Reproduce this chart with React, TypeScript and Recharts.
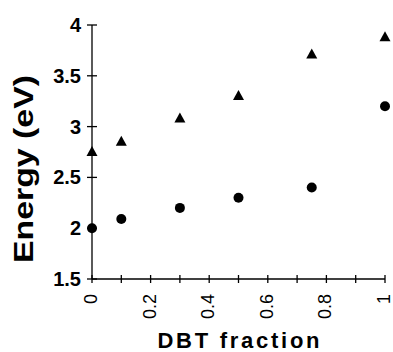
import React from 'react';
import { ScatterChart, Scatter, XAxis, YAxis, Label } from 'recharts';

const fractions = [0, 0.1, 0.3, 0.5, 0.75, 1];
const triangleEnergy = [2.75, 2.85, 3.08, 3.3, 3.71, 3.88];
const circleEnergy = [2.0, 2.09, 2.2, 2.3, 2.4, 3.2];
const xTicks = [0, 0.1, 0.2, 0.3, 0.4, 0.5, 0.6, 0.7, 0.8, 0.9, 1];
const xTickLabels = ['0', '', '0.2', '', '0.4', '', '0.6', '', '0.8', '', '1'];
const yTicks = [1.5, 2, 2.5, 3, 3.5, 4];
const yTickLabels = ['1.5', '2', '2.5', '3', '3.5', '4'];
const xTitle = 'DBT fraction';
const yTitle = 'Energy (eV)';

const triData = fractions.map((x, i) => ({ x, y: triangleEnergy[i] }));
const circData = fractions.map((x, i) => ({ x, y: circleEnergy[i] }));

const FONT = '"Liberation Sans", Arial, Helvetica, sans-serif';

const YTick = (props: any) => {
  const { x, y, payload } = props;
  const idx = yTicks.indexOf(payload.value);
  return (
    <g>
      <line x1={x - 5} x2={x + 5} y1={y} y2={y} stroke="#000" strokeWidth={1.3} />
      <text x={x - 11} y={y} dy={7} textAnchor="end" fontFamily={FONT} fontWeight="bold" fontSize={20} fill="#000">
        {yTickLabels[idx]}
      </text>
    </g>
  );
};

const XTick = (props: any) => {
  const { x, y, payload } = props;
  const idx = xTicks.indexOf(payload.value);
  const lbl = xTickLabels[idx];
  return (
    <g>
      <line x1={x} x2={x} y1={y - 4} y2={y + 4} stroke="#000" strokeWidth={1.3} />
      {lbl ? (
        <text
          x={x + 5}
          y={y + 15}
          textAnchor="end"
          transform={`rotate(-90, ${x + 5}, ${y + 15})`}
          fontFamily={FONT}
          fontSize={18}
          fill="#000"
        >
          {lbl}
        </text>
      ) : null}
    </g>
  );
};

const Triangle = (props: any) => {
  const { cx, cy } = props;
  return <polygon points={`${cx},${cy - 6} ${cx - 5.5},${cy + 4} ${cx + 5.5},${cy + 4}`} fill="#000" />;
};

const Dot = (props: any) => {
  const { cx, cy } = props;
  return <circle cx={cx} cy={cy} r={5} fill="#000" />;
};

export default function App() {
  return (
    <div style={{ position: 'absolute', left: 0, top: 0, background: '#fff' }}>
      <ScatterChart width={393} height={352} margin={{ top: 25, right: 8, bottom: 0, left: 0 }}>
        <XAxis
          type="number"
          dataKey="x"
          domain={[0, 1]}
          ticks={xTicks}
          tick={<XTick />}
          tickLine={false}
          tickSize={0}
          tickMargin={0}
          height={73}
          stroke="#000"
          strokeWidth={1.3}
          interval={0}
        >
          <Label
            content={(p: any) => {
              const vb = p.viewBox;
              return (
                <text
                  x={vb.x + vb.width / 2}
                  y={vb.y + 69}
                  textAnchor="middle"
                  fontFamily={FONT}
                  fontWeight="bold"
                  fontSize={22}
                  textLength={162}
                  lengthAdjust="spacing"
                  fill="#000"
                >
                  {xTitle}
                </text>
              );
            }}
          />
        </XAxis>
        <YAxis
          type="number"
          dataKey="y"
          domain={[1.5, 4]}
          ticks={yTicks}
          tick={<YTick />}
          tickLine={false}
          tickSize={0}
          tickMargin={0}
          width={92}
          stroke="#000"
          strokeWidth={1.3}
          interval={0}
        >
          <Label
            content={(p: any) => {
              const vb = p.viewBox;
              const cx = 33;
              const cy = vb.y + vb.height / 2 + 17;
              return (
                <text
                  x={cx}
                  y={cy}
                  textAnchor="middle"
                  transform={`rotate(-90, ${cx}, ${cy})`}
                  fontFamily={FONT}
                  fontWeight="bold"
                  fontSize={27}
                  textLength={188}
                  lengthAdjust="spacingAndGlyphs"
                  fill="#000"
                >
                  {yTitle}
                </text>
              );
            }}
          />
        </YAxis>
        <Scatter data={triData} shape={<Triangle />} isAnimationActive={false} />
        <Scatter data={circData} shape={<Dot />} isAnimationActive={false} />
      </ScatterChart>
    </div>
  );
}
